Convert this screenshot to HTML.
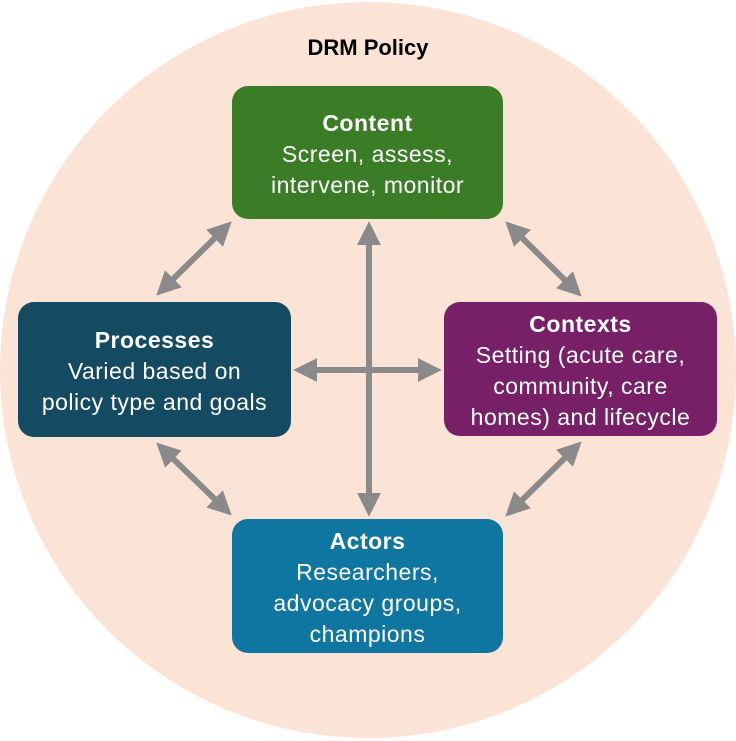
<!DOCTYPE html>
<html><head><meta charset="utf-8"><style>
html,body{margin:0;padding:0;background:#fff;}
body{width:736px;height:741px;position:relative;overflow:hidden;font-family:"Liberation Sans",sans-serif;}
.box{position:absolute;box-sizing:border-box;padding-top:4px;border-radius:16px;color:#fff;text-align:center;font-size:23px;line-height:31px;letter-spacing:0.5px;display:flex;flex-direction:column;justify-content:center;white-space:nowrap;}
.box b{display:block;}
</style></head><body>
<svg width="736" height="741" style="position:absolute;left:0;top:0">
<defs><marker id="a" markerWidth="4" markerHeight="4" refX="2.2" refY="2" orient="auto-start-reverse" markerUnits="strokeWidth"><path d="M0,0 L4,2 L0,4 Z" fill="#8a8a8a"/></marker></defs>
<circle cx="368" cy="370" r="368" fill="#fbe3d6"/>
<g stroke="#8a8a8a" stroke-width="6" marker-start="url(#a)" marker-end="url(#a)">
<line x1="369" y1="232" x2="369" y2="506"/>
<line x1="304" y1="370" x2="431" y2="370"/>
<line x1="164" y1="288" x2="224" y2="229"/>
<line x1="513" y1="229" x2="574" y2="289"/>
<line x1="164" y1="450" x2="224" y2="508"/>
<line x1="574" y1="449" x2="513" y2="509"/>
</g>
<text x="368" y="55" text-anchor="middle" font-family="Liberation Sans" font-weight="bold" font-size="22" fill="#000">DRM Policy</text>
</svg>
<div class="box" style="left:232px;top:86px;width:271px;height:133px;background:#3b7d26"><b>Content</b>Screen, assess,<br>intervene, monitor</div>
<div class="box" style="left:18px;top:302px;width:273px;height:135px;background:#144a62"><b>Processes</b>Varied based on<br>policy type and goals</div>
<div class="box" style="left:444px;top:302px;width:273px;height:134px;background:#772068"><b>Contexts</b>Setting (acute care,<br>community, care<br>homes) and lifecycle</div>
<div class="box" style="left:232px;top:519px;width:271px;height:134px;background:#0e76a0"><b>Actors</b>Researchers,<br>advocacy groups,<br>champions</div>
</body></html>
